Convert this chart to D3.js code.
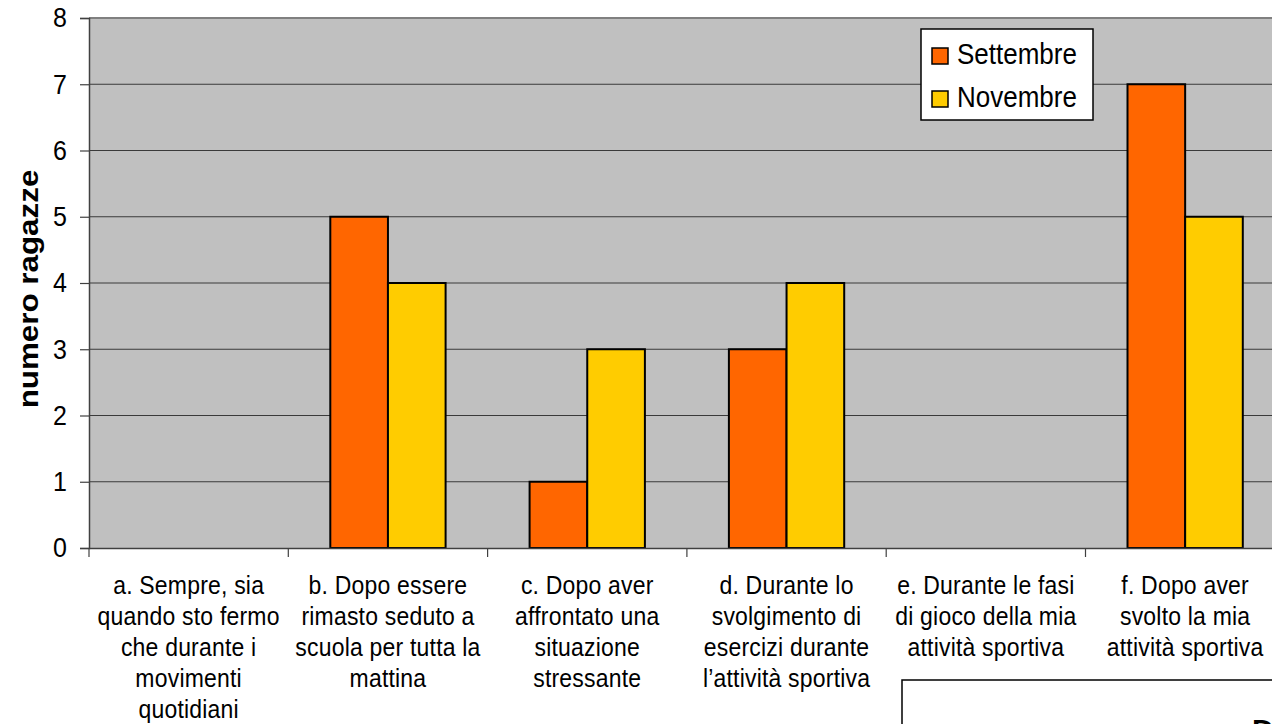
<!DOCTYPE html>
<html>
<head>
<meta charset="utf-8">
<script src="https://cdn.jsdelivr.net/npm/d3@7"></script>
<style>
  html, body { margin: 0; padding: 0; background: #fff; }
  svg { display: block; font-family: "Liberation Sans", Arial, sans-serif; }
</style>
</head>
<body>
<svg id="chart" width="1272" height="724"></svg>
<script>
// Survey answers: when do the girls feel discomfort
const categories = ["a", "b", "c", "d", "e", "f"];
const categoryLabels = [
  ["a. Sempre, sia", "quando sto fermo", "che durante i", "movimenti", "quotidiani"],
  ["b. Dopo essere", "rimasto seduto a", "scuola per tutta la", "mattina"],
  ["c. Dopo aver", "affrontato una", "situazione", "stressante"],
  ["d. Durante lo", "svolgimento di", "esercizi durante", "l\u2019attività sportiva"],
  ["e. Durante le fasi", "di gioco della mia", "attività sportiva"],
  ["f. Dopo aver", "svolto la mia", "attività sportiva"]
];
const seriesNames = ["Settembre", "Novembre"];
const settembre = [0, 5, 1, 3, 0, 7];
const novembre = [0, 4, 3, 4, 0, 5];
const yTicks = [0, 1, 2, 3, 4, 5, 6, 7, 8];
const yTitle = "numero ragazze";
const colors = ["#FF6600", "#FFCC00"];

// text in this chart is drawn slightly taller than wide
const stretch = 1.12;

const svg = d3.select("#chart");
const plotLeft = 89, plotTop = 18, plotBottom = 548, bandW = 199.3;
const plotRight = plotLeft + categories.length * bandW;

const x = d3.scaleBand().domain(categories).range([plotLeft, plotRight]).padding(0);
const x1 = d3.scaleBand().domain(seriesNames).range([42, bandW - 42]).padding(0);
const y = d3.scaleLinear().domain([0, 8]).range([plotBottom, plotTop]);

// plot background
svg.append("rect")
  .attr("x", plotLeft).attr("y", plotTop)
  .attr("width", plotRight - plotLeft).attr("height", plotBottom - plotTop)
  .attr("fill", "#C0C0C0");

// gridlines
svg.append("g").selectAll("line")
  .data(yTicks.filter(d => d > 0))
  .join("line")
  .attr("x1", plotLeft).attr("x2", plotRight)
  .attr("y1", d => y(d)).attr("y2", d => y(d))
  .attr("stroke", d => d === 8 ? "#808080" : "#3a3a3a")
  .attr("stroke-width", d => d === 8 ? 2 : 1.2);

// y axis
const yAxis = d3.axisLeft(y).tickValues(yTicks).tickSize(9).tickPadding(13).tickFormat(d3.format("d"));
const gy = svg.append("g").attr("transform", `translate(${plotLeft},0)`).call(yAxis);
gy.select(".domain").attr("stroke", "#404040").attr("stroke-width", 1.5);
gy.selectAll(".tick line").attr("stroke", "#404040").attr("stroke-width", 1.2);
gy.selectAll(".tick text")
  .attr("font-size", 25).attr("fill", "#000")
  .attr("font-family", "'Liberation Sans', Arial, sans-serif")
  .attr("transform", `scale(1,${stretch})`);

// bars
const data = categories.map((c, i) => ({ c, vals: [settembre[i], novembre[i]] }));
const groups = svg.append("g").selectAll("g")
  .data(data).join("g")
  .attr("transform", d => `translate(${x(d.c)},0)`);
groups.selectAll("rect")
  .data(d => d.vals.map((v, j) => ({ s: seriesNames[j], v, j })).filter(e => e.v > 0))
  .join("rect")
  .attr("x", d => x1(d.s))
  .attr("width", x1.bandwidth())
  .attr("y", d => y(d.v))
  .attr("height", d => y(0) - y(d.v))
  .attr("fill", d => colors[d.j])
  .attr("stroke", "#000").attr("stroke-width", 2);

// x axis
const xAxis = d3.axisBottom(x).tickSize(0).tickFormat("");
const gx = svg.append("g").attr("transform", `translate(0,${plotBottom})`).call(xAxis);
gx.select(".domain").attr("stroke", "#404040").attr("stroke-width", 1.5);
gx.selectAll(".tick").remove();
gx.selectAll(".btick")
  .data(d3.range(categories.length + 1))
  .join("line")
  .attr("x1", i => plotLeft + i * bandW).attr("x2", i => plotLeft + i * bandW)
  .attr("y1", 0).attr("y2", 9)
  .attr("stroke", "#404040").attr("stroke-width", 1.2);

// category labels
const lab = svg.append("g").selectAll("g")
  .data(categories).join("g")
  .attr("transform", d => `translate(${x(d) + bandW / 2},594) scale(1,${stretch})`)
  .append("text")
  .attr("text-anchor", "middle")
  .attr("font-size", 23)
  .attr("letter-spacing", 0.2)
  .attr("fill", "#000");
lab.selectAll("tspan")
  .data((d, i) => categoryLabels[i])
  .join("tspan")
  .attr("x", 0)
  .attr("dy", (d, i) => i === 0 ? 0 : 31 / stretch)
  .text(d => d);

// y title
svg.append("text")
  .attr("transform", `translate(38,${(plotTop + plotBottom) / 2 + 6}) scale(1,${stretch}) rotate(-90)`)
  .attr("text-anchor", "middle")
  .attr("font-size", 28).attr("font-weight", "bold")
  .text(yTitle);

// legend
const lg = svg.append("g").attr("transform", "translate(921,29)");
lg.append("rect").attr("width", 172).attr("height", 91)
  .attr("fill", "#fff").attr("stroke", "#000").attr("stroke-width", 1.5);
const items = lg.selectAll("g").data(seriesNames).join("g")
  .attr("transform", (d, i) => `translate(11,${26 + i * 43})`);
items.append("rect").attr("x", 0).attr("y", -7).attr("width", 16).attr("height", 16)
  .attr("fill", (d, i) => colors[i]).attr("stroke", "#000").attr("stroke-width", 1.5);
items.append("text").attr("x", 25).attr("y", 8)
  .attr("transform", `scale(1,${stretch})`)
  .attr("font-size", 26).text(d => d);

// caption box at the bottom
const cap = svg.append("g");
cap.append("rect").attr("x", 902).attr("y", 680).attr("width", 400).attr("height", 80)
  .attr("fill", "#fff").attr("stroke", "#000").attr("stroke-width", 1.5);
cap.append("text").attr("x", 1252).attr("y", 740)
  .attr("font-size", 30).attr("font-weight", "bold").text("D");
</script>
</body>
</html>
